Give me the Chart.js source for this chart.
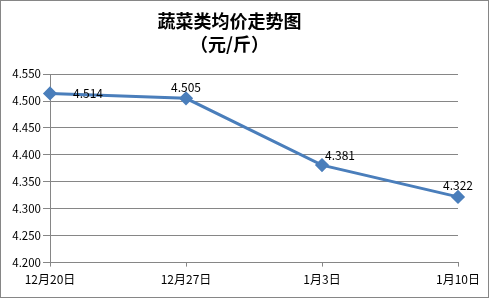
<!DOCTYPE html>
<html>
<head>
<meta charset="utf-8">
<script src="https://cdn.jsdelivr.net/npm/chart.js@4/dist/chart.umd.min.js"></script>
<style>
  html, body { margin: 0; padding: 0; background: #fff; }
  #wrap { position: relative; width: 489px; height: 298px; box-sizing: border-box; border: 1px solid #868686; }
  canvas { display: block; }
</style>
</head>
<body>
<div id="wrap"><canvas id="c" width="487" height="296"></canvas></div>
<script>
const dates = ['12月20日', '12月27日', '1月3日', '1月10日'];
const prices = [4.514, 4.505, 4.381, 4.322];
const title = ['蔬菜类均价走势图', '（元/斤）'];

const lineColor = '#4a7ebb';
const gridColor = '#868686';
const cjk = '"Noto Sans CJK SC", "Noto Sans", sans-serif';

// value labels next to each point, like the office chart
const valueLabels = {
  id: 'valueLabels',
  afterDatasetsDraw(chart) {
    const ctx = chart.ctx;
    const meta = chart.getDatasetMeta(0);
    ctx.save();
    ctx.font = '12px ' + cjk;
    ctx.fillStyle = '#000';
    ctx.textBaseline = 'middle';
    meta.data.forEach((pt, i) => {
      const txt = prices[i].toFixed(3);
      if (i === 0) {
        ctx.textAlign = 'left';
        ctx.fillText(txt, pt.x + 23, pt.y);
      } else if (i === 2) {
        ctx.textAlign = 'left';
        ctx.fillText(txt, pt.x + 3, pt.y - 10);
      } else {
        ctx.textAlign = 'center';
        ctx.fillText(txt, pt.x, pt.y - 11);
      }
    });
    ctx.restore();
  }
};

new Chart(document.getElementById('c'), {
  type: 'line',
  data: {
    labels: dates,
    datasets: [{
      data: prices,
      borderColor: lineColor,
      backgroundColor: lineColor,
      borderWidth: 3,
      pointStyle: 'rectRot',
      pointRadius: 5,
      pointHoverRadius: 5,
      tension: 0
    }]
  },
  options: {
    responsive: false,
    animation: false,
    layout: { padding: { left: 0, right: 30, top: 0, bottom: 4 } },
    plugins: {
      legend: { display: false },
      tooltip: { enabled: false },
      title: {
        display: true,
        text: title,
        color: '#000',
        font: { family: cjk, size: 18, weight: 'bold', lineHeight: 1.28 },
        padding: { top: 9, bottom: 18 }
      }
    },
    scales: {
      x: {
        offset: false,
        grid: { display: true, drawOnChartArea: false, drawTicks: true, tickLength: 4, color: gridColor },
        border: { color: gridColor },
        ticks: { color: '#000', font: { family: cjk, size: 12 }, maxRotation: 0, padding: 6 }
      },
      y: {
        min: 4.2,
        max: 4.55,
        afterFit(scale) { scale.width = 49; },
        grid: { color: gridColor, tickLength: 7 },
        border: { color: gridColor },
        ticks: {
          stepSize: 0.05,
          color: '#000',
          font: { family: cjk, size: 11.5 },
          padding: 2,
          callback: v => Number(v).toFixed(3)
        }
      }
    }
  },
  plugins: [valueLabels]
});
</script>
</body>
</html>
